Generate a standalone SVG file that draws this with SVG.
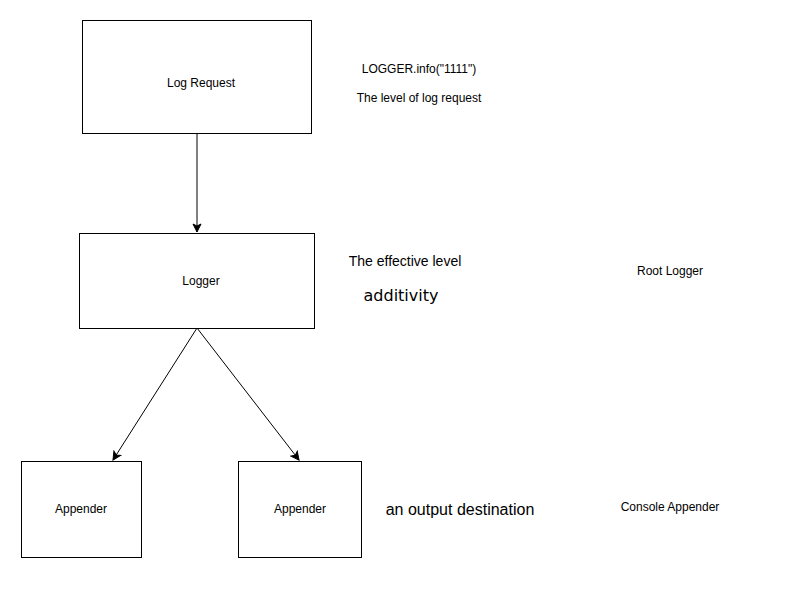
<svg xmlns="http://www.w3.org/2000/svg" width="791" height="600" viewBox="0 0 791 600">
<style>
.box{fill:#fff;stroke:#000;stroke-width:1}
.t{font-family:"Liberation Sans",Arial,sans-serif;font-size:12px;fill:#000;text-anchor:middle;dominant-baseline:central}
.edge{stroke:#000;stroke-width:1;fill:none}
</style>
<defs>
<marker id="ah" markerWidth="10" markerHeight="10" refX="9" refY="5" orient="auto" markerUnits="userSpaceOnUse">
<path d="M1,1 L9,5 L1,9 L3,5 Z" fill="#000" stroke="#000" stroke-width="1"/>
</marker>
</defs>
<rect width="791" height="600" fill="#fff"/>
<g id="connectors">
<path class="edge" d="M197,133 L197,232" marker-end="url(#ah)"/>
<path class="edge" d="M197,328 L113,460" marker-end="url(#ah)"/>
<path class="edge" d="M197,328 L299,460" marker-end="url(#ah)"/>
</g>
<g id="log-request">
<rect class="box" x="82.5" y="20.5" width="229" height="113"/>
<text class="t" x="201" y="83">Log Request</text>
</g>
<g id="logger">
<rect class="box" x="79.5" y="233.5" width="235" height="95"/>
<text class="t" x="201" y="281">Logger</text>
</g>
<g id="appender1">
<rect class="box" x="21.5" y="461.5" width="120" height="96"/>
<text class="t" x="81" y="509">Appender</text>
</g>
<g id="appender2">
<rect class="box" x="238.5" y="461.5" width="123" height="96"/>
<text class="t" x="300" y="509">Appender</text>
</g>
<g id="labels">
<text class="t" x="419" y="69">LOGGER.info("1111")</text>
<text class="t" x="419" y="98">The level of log request</text>
<text class="t" x="405" y="261" style="font-size:14px">The effective level</text>
<text class="t" x="401" y="295" style="font-family:'DejaVu Sans',Verdana,sans-serif;font-size:16px">additivity</text>
<text class="t" x="670" y="271">Root Logger</text>
<text class="t" x="460" y="509" style="font-size:16px">an output destination</text>
<text class="t" x="670" y="507">Console Appender</text>
</g>
</svg>
